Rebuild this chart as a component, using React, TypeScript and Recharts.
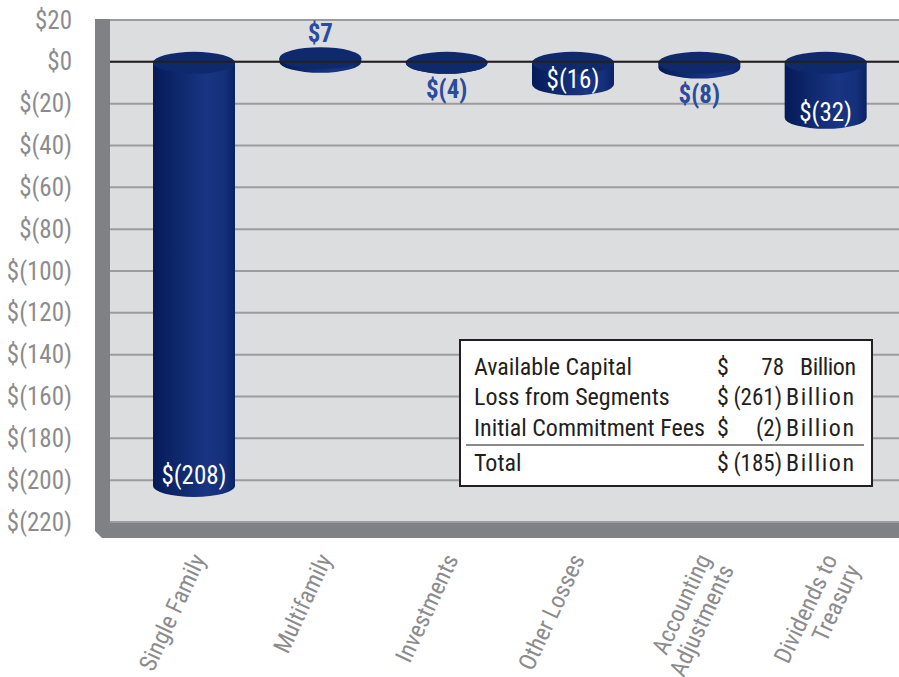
import React from 'react'
import { BarChart, Bar, XAxis, YAxis, CartesianGrid, ReferenceLine } from 'recharts'

const categories = [
  'Single Family',
  'Multifamily',
  'Investments',
  'Other Losses',
  'Accounting\nAdjustments',
  'Dividends to\nTreasury',
]
const amounts = [-208, 7, -4, -16, -8, -32]
const yTicks = [20, 0, -20, -40, -60, -80, -100, -120, -140, -160, -180, -200, -220]

const tableLabels = ['Available Capital', 'Loss from Segments', 'Initial Commitment Fees', 'Total']
const tableAmounts = ['78', '(261)', '(2)', '(185)']

const data = categories.map((name, i) => ({ name, value: amounts[i] }))

const FONT = "'Liberation Sans Narrow', 'Arial Narrow', 'Roboto Condensed', 'Liberation Sans', Arial, sans-serif"
const GRAY_TEXT = '#8c8c8e'
const WALL = '#808184'

const money = (v: number) => (v < 0 ? `$(${-v})` : `$${v}`)

function YTick({ y, payload }: any) {
  return (
    <text x={72} y={y} textAnchor="end" dominantBaseline="central"
      fontFamily={FONT} fontSize={25} fill={GRAY_TEXT}>
      {money(payload.value)}
    </text>
  )
}

function XTick({ x, payload }: any) {
  const lines = String(payload.value).split('\n')
  const ax = x + 12
  const ay = 559
  return (
    <text x={ax} y={ay} textAnchor="end" transform={`rotate(-65 ${ax} ${ay})`}
      fontFamily={FONT} fontSize={24} fill={GRAY_TEXT}>
      {lines.map((l, i) => (
        <tspan key={i} x={ax} dy={i === 0 ? 0 : '1.05em'}>{l}</tspan>
      ))}
    </text>
  )
}

// cylinder drawn from the zero line to the bar value
function Cylinder(props: any) {
  const { x, y, width, height, payload, index } = props
  const v = payload.value as number
  const a = y
  const b = y + height
  const zeroY = v < 0 ? Math.min(a, b) : Math.max(a, b)
  const valY = v < 0 ? Math.max(a, b) : Math.min(a, b)
  const rx = width / 2
  const ry = 11
  const cx = x + rx
  let topC: number
  let botC: number
  if (v < 0) {
    topC = zeroY + 1
    botC = Math.max(valY - ry, topC)
  } else {
    botC = zeroY
    topC = Math.min(valY + ry, zeroY)
  }
  const gid = `cyl-side-${index}`
  const inside = Math.abs(v) >= 16
  let label: React.ReactNode
  if (inside) {
    const off = botC - topC > 100 ? 21 : 16
    label = (
      <text x={cx} y={botC + ry - off} textAnchor="middle" dominantBaseline="central"
        fontFamily={FONT} fontSize={25} fill="#ffffff">{money(v)}</text>
    )
  } else if (v < 0) {
    label = (
      <text x={cx} y={botC + ry + 16} textAnchor="middle" dominantBaseline="central"
        fontFamily={FONT} fontSize={25} fontWeight="bold" fill="#2a4b9e">{money(v)}</text>
    )
  } else {
    label = (
      <text x={cx} y={topC - ry - 14} textAnchor="middle" dominantBaseline="central"
        fontFamily={FONT} fontSize={25} fontWeight="bold" fill="#2a4b9e">{money(v)}</text>
    )
  }
  return (
    <g>
      <defs>
        <linearGradient id={gid} x1="0" y1="0" x2="1" y2="0">
          <stop offset="0%" stopColor="#061a58" />
          <stop offset="30%" stopColor="#0e286c" />
          <stop offset="65%" stopColor="#193583" />
          <stop offset="88%" stopColor="#14307a" />
          <stop offset="100%" stopColor="#0a2163" />
        </linearGradient>
      </defs>
      <path
        d={`M ${x} ${topC} L ${x} ${botC} A ${rx} ${ry} 0 0 0 ${x + width} ${botC} L ${x + width} ${topC} Z`}
        fill={`url(#${gid})`}
      />
      <ellipse cx={cx} cy={topC} rx={rx} ry={ry} fill="#0e2a6c" />
      {label}
    </g>
  )
}

function Walls() {
  return (
    <svg width={899} height={677} style={{ position: 'absolute', left: 0, top: 0 }}>
      <polygon points="95,19 110,19 110,522 899,522 899,538 102,538 95,531" fill={WALL} />
    </svg>
  )
}

function SummaryTable() {
  const base = [36, 66, 97, 132]
  return (
    <svg width={414} height={148} style={{ position: 'absolute', left: 459, top: 339 }}>
      <rect x={1} y={1} width={412} height={146} fill="#ffffff" stroke="#231f20" strokeWidth={2} />
      <line x1={7} x2={405} y1={106} y2={106} stroke="#8a8a8c" strokeWidth={2} />
      {tableLabels.map((l, i) => {
        const amt = tableAmounts[i]
        const paren = amt.startsWith('(')
        return (
          <g key={l} fontFamily={FONT} fontSize={24} fill="#231f20">
            <text x={15} y={base[i]}>{l}</text>
            <text x={258} y={base[i]}>$</text>
            <text x={paren ? 323 : 325} y={base[i]} textAnchor="end" fontSize={23}>{amt}</text>
            <text x={paren ? 327 : 341} y={base[i]} textLength={paren ? 68 : 56} lengthAdjust="spacing">Billion</text>
          </g>
        )
      })}
    </svg>
  )
}

export default function App() {
  return (
    <div style={{ position: 'relative', width: 899, height: 677, background: '#fff', overflow: 'hidden' }}>
      <style>{'body { margin: 0; }'}</style>
      <Walls />
      <BarChart width={899} height={677} data={data} margin={{ top: 20, right: 0, bottom: 0, left: 0 }}>
        <CartesianGrid vertical={false} stroke="#9c9c9e" strokeWidth={2} fill="#dcdddf" fillOpacity={1} />
        <XAxis dataKey="name" axisLine={false} tickLine={false} interval={0} height={155}
          padding={{ left: 21, right: 10 }} tick={<XTick />} />
        <YAxis domain={[-220, 20]} ticks={yTicks} interval={0} axisLine={false} tickLine={false}
          width={110} tick={<YTick />} />
        <ReferenceLine y={0} stroke="#231f20" strokeWidth={2} />
        <Bar dataKey="value" barSize={82} shape={<Cylinder />} isAnimationActive={false} />
      </BarChart>
      <SummaryTable />
    </div>
  )
}
